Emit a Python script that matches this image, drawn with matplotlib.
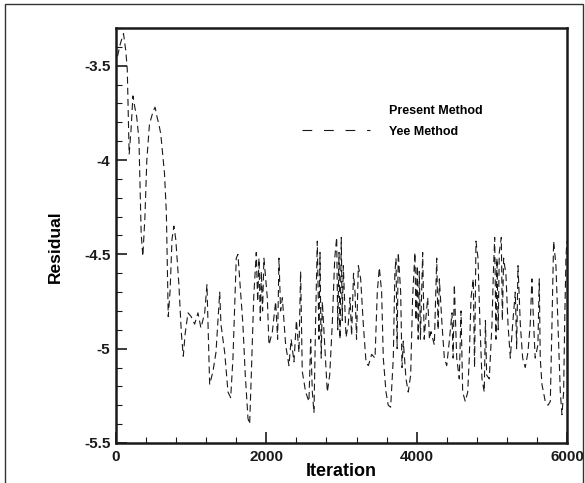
import matplotlib
matplotlib.use("Agg")
import matplotlib.pyplot as plt
from matplotlib.lines import Line2D
from matplotlib.patches import Rectangle
from matplotlib.ticker import MultipleLocator

plt.rcParams['font.family'] = ['Liberation Sans', 'DejaVu Sans']
plt.rcParams['lines.scale_dashes'] = False

# Yee Method residual history
yee_iter = [
    20, 60, 100, 130, 150, 175, 200, 225, 250, 275, 305, 335, 357, 385, 410,
    445, 495, 520, 545, 570, 595, 645, 670, 695, 720, 745, 770, 795, 835, 870,
    895, 920, 958, 1000, 1046, 1090, 1130, 1180, 1210, 1246, 1290, 1330, 1380,
    1396, 1446, 1490, 1526, 1556, 1600, 1622, 1658, 1688, 1720, 1756, 1778,
    1800, 1832, 1866, 1885, 1902, 1920, 1933, 1950, 1968, 2013, 2035, 2080,
    2124, 2150, 2168, 2190, 2213, 2257, 2301, 2330, 2368, 2400, 2434, 2456,
    2478, 2523, 2567, 2590, 2612, 2634, 2656, 2678, 2700, 2714, 2730, 2745,
    2776, 2811, 2843, 2877, 2910, 2936, 2950, 2967, 2980, 2997, 3010, 3024,
    3060, 3090, 3113, 3135, 3160, 3180, 3200, 3224, 3255, 3290, 3326, 3357,
    3401, 3446, 3476, 3503, 3534, 3556, 3592, 3622, 3654, 3689, 3710, 3725,
    3740, 3755, 3787, 3805, 3822, 3858, 3888, 3920, 3946, 3977, 3991, 4008,
    4020, 4035, 4050, 4080, 4100, 4115, 4147, 4170, 4191, 4235, 4267, 4285,
    4302, 4337, 4368, 4400, 4434, 4470, 4485, 4501, 4533, 4567, 4590, 4612,
    4647, 4679, 4700, 4723, 4753, 4770, 4789, 4816, 4842, 4869, 4899, 4915,
    4931, 4966, 5002, 5020, 5038, 5055, 5068, 5085, 5099, 5126, 5140, 5157,
    5188, 5215, 5246, 5277, 5312, 5330, 5348, 5379, 5410, 5444, 5480, 5511,
    5533, 5556, 5577, 5613, 5631, 5644, 5667, 5711, 5747, 5778, 5800, 5822,
    5853, 5880, 5911, 5933, 5955, 5969, 5986, 5998,
]
yee_resid = [
    -3.45, -3.38, -3.33, -3.42, -3.52, -3.97, -3.84, -3.66, -3.72, -3.77, -3.89,
    -4.39, -4.51, -4.30, -4.00, -3.81, -3.74, -3.72, -3.77, -3.81, -3.86, -4.07,
    -4.28, -4.83, -4.69, -4.42, -4.35, -4.42, -4.65, -4.92, -5.04, -4.92, -4.81,
    -4.83, -4.87, -4.81, -4.89, -4.81, -4.66, -5.19, -5.12, -5.02, -4.70, -4.87,
    -5.02, -5.23, -5.26, -5.05, -4.52, -4.50, -4.70, -4.87, -5.14, -5.37, -5.40,
    -5.14, -4.73, -4.49, -4.75, -4.52, -4.85, -4.59, -4.80, -4.52, -4.73, -4.98,
    -4.91, -4.75, -4.95, -4.52, -4.80, -4.73, -4.98, -5.09, -4.95, -5.07, -4.85,
    -5.02, -4.59, -5.12, -5.23, -5.28, -4.95, -5.23, -5.34, -4.84, -4.43, -4.95,
    -4.49, -5.05, -4.75, -4.98, -5.23, -5.14, -4.87, -4.52, -4.41, -4.90, -4.49,
    -4.95, -4.41, -4.85, -4.56, -4.94, -4.87, -4.73, -4.93, -4.60, -4.70, -4.95,
    -4.56, -4.63, -4.87, -5.07, -5.09, -5.03, -5.05, -4.70, -4.57, -4.70, -5.05,
    -5.23, -5.30, -5.31, -5.05, -4.60, -4.52, -5.00, -4.49, -4.70, -5.10, -4.96,
    -5.16, -5.23, -5.14, -4.73, -4.49, -4.85, -4.56, -4.95, -4.59, -4.95, -4.49,
    -4.95, -4.87, -4.73, -4.95, -4.91, -4.98, -4.52, -4.90, -4.63, -4.87, -5.05,
    -5.09, -4.96, -4.81, -5.05, -4.66, -5.05, -5.16, -4.80, -5.23, -5.28, -5.23,
    -5.05, -4.73, -4.63, -5.10, -4.43, -4.52, -4.87, -5.16, -5.23, -4.85, -5.14,
    -5.16, -4.87, -4.60, -4.41, -4.95, -4.52, -4.90, -4.49, -4.41, -4.85, -4.52,
    -4.61, -4.87, -5.05, -4.87, -4.70, -5.00, -4.56, -4.87, -5.05, -5.10, -5.02,
    -4.87, -4.63, -4.87, -5.05, -4.98, -4.63, -5.05, -5.19, -5.28, -5.30, -5.28,
    -4.87, -4.43, -4.56, -4.87, -5.23, -5.35, -5.23, -4.87, -4.52, -4.43,
]

x_ticks = [0, 2000, 4000, 6000]
y_ticks = [-5.5, -5, -4.5, -4, -3.5]
y_tick_labels = ['-5.5', '-5', '-4.5', '-4', '-3.5']

fig = plt.figure(figsize=(5.85, 4.83), dpi=100)
ax = fig.add_axes([116/585, 40/483, 451/585, 415/483])

ax.plot(yee_iter, yee_resid, color='#1a1a1a', linewidth=0.8,
        dashes=(5, 3))

ax.set_xlim(0, 6000)
ax.set_ylim(-5.5, -3.3)
ax.set_xticks(x_ticks)
ax.set_xticklabels([str(t) for t in x_ticks])
ax.set_yticks(y_ticks)
ax.set_yticklabels(y_tick_labels)
ax.xaxis.set_minor_locator(MultipleLocator(400))
ax.yaxis.set_minor_locator(MultipleLocator(0.1))
ax.tick_params(which='both', direction='in', top=False, right=False,
               colors='#1a1a1a')
ax.tick_params(which='major', length=8, width=1.2, labelsize=11, pad=4)
ax.tick_params(which='minor', length=4, width=0.8)
ax.tick_params(axis='x', which='major', pad=5)
for lab in ax.get_xticklabels() + ax.get_yticklabels():
    lab.set_fontweight('bold')
for s in ax.spines.values():
    s.set_linewidth(1.8)
    s.set_color('#1a1a1a')

ax.set_xlabel('Iteration', fontsize=13, fontweight='bold')
ax.set_ylabel('Residual', fontsize=12.5, fontweight='bold')
ax.xaxis.set_label_coords(0.5, -0.048)
ax.yaxis.set_label_coords(-0.118, 0.472)

handles = [Line2D([], [], color='none'),
           Line2D([], [], color='#1a1a1a', linewidth=0.8, dashes=(7, 8.5))]
leg = ax.legend(handles, ['Present Method', 'Yee Method'],
                loc='upper left', bbox_to_anchor=(0.413, 0.815),
                frameon=False, borderpad=0, borderaxespad=0,
                handlelength=5.4, handletextpad=1.55, labelspacing=0.72,
                prop={'weight': 'bold', 'size': 9})

fig.patches.append(Rectangle((5/585, -0.01), 578/585, 1 - 4/483 + 0.01,
                             transform=fig.transFigure, fill=False,
                             edgecolor='#333333', linewidth=1.0))

fig.savefig('out.png', dpi=100)
